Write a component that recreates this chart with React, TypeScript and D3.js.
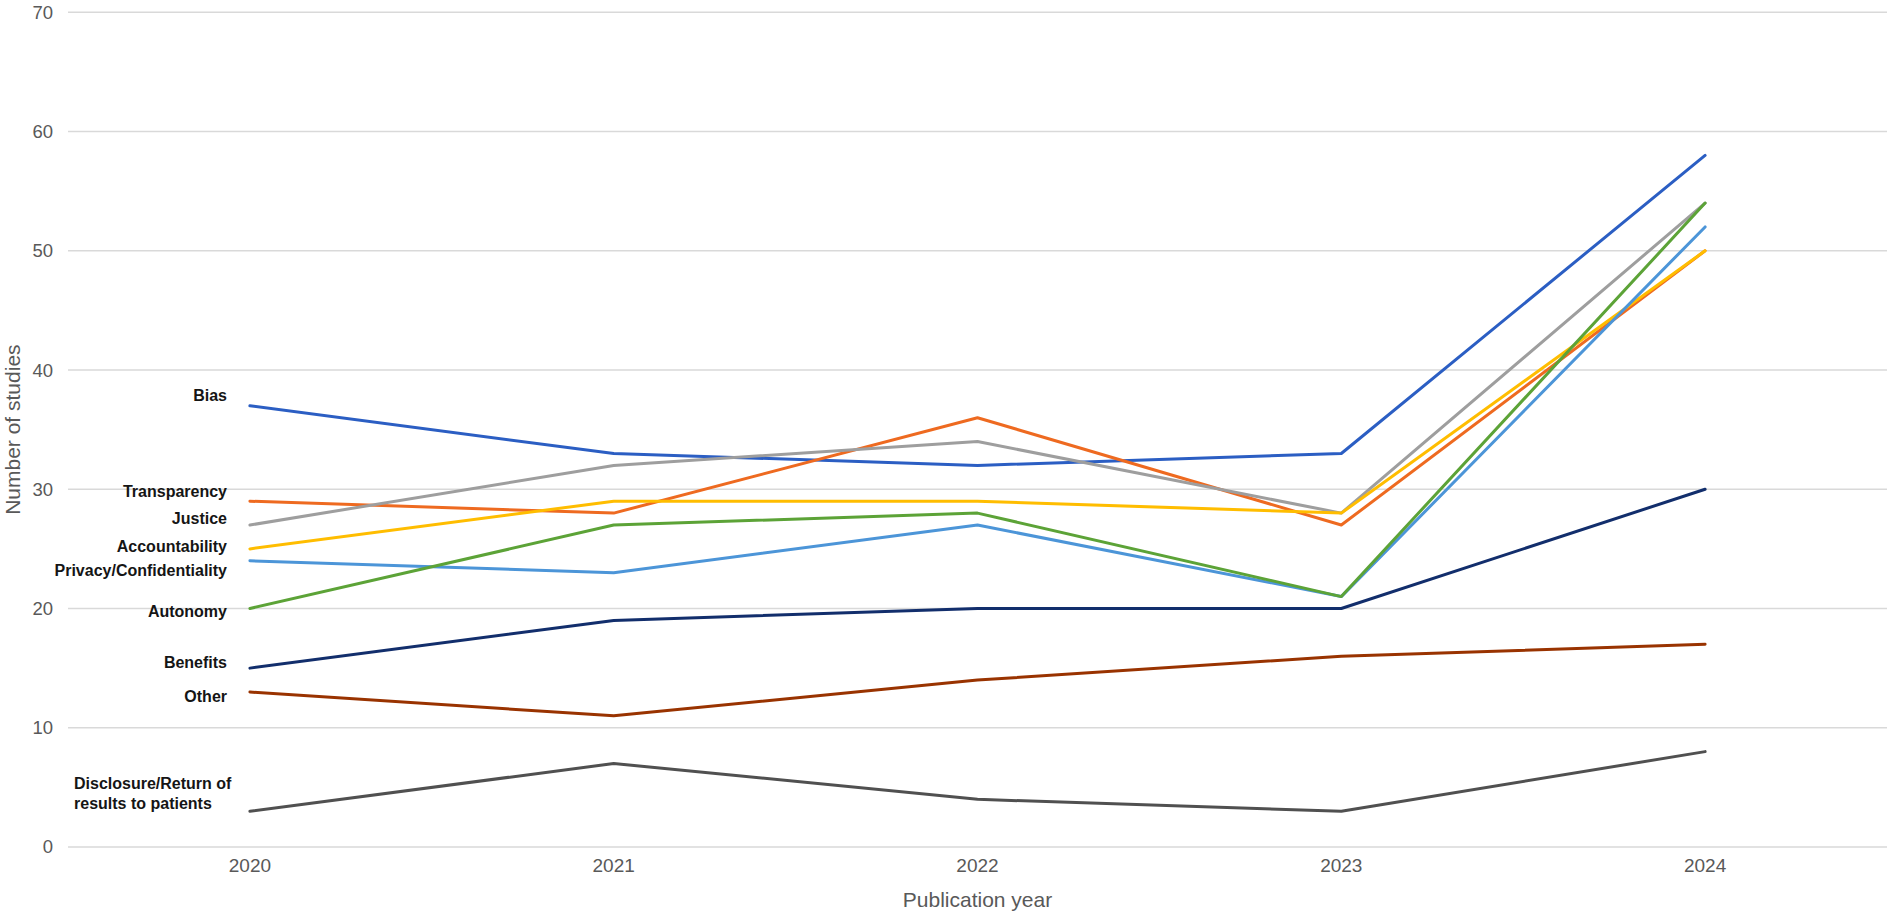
import React from "react";
import * as d3 from "d3";

const years = ["2020", "2021", "2022", "2023", "2024"];
const yTicks = [0, 10, 20, 30, 40, 50, 60, 70];

const bias = [37, 33, 32, 33, 58];
const transparency = [29, 28, 36, 27, 50];
const justice = [27, 32, 34, 28, 54];
const accountability = [25, 29, 29, 28, 50];
const privacy = [24, 23, 27, 21, 52];
const autonomy = [20, 27, 28, 21, 54];
const benefits = [15, 19, 20, 20, 30];
const other = [13, 11, 14, 16, 17];
const disclosure = [3, 7, 4, 3, 8];

const seriesNames = [
  "Bias",
  "Transparency",
  "Justice",
  "Accountability",
  "Privacy/Confidentiality",
  "Autonomy",
  "Benefits",
  "Other",
  "Disclosure/Return of results to patients",
];
const seriesValues = [bias, transparency, justice, accountability, privacy, autonomy, benefits, other, disclosure];

// styling
const colors = ["#2B5EC3", "#EE6A20", "#9E9E9E", "#FFBD00", "#4C95D8", "#5CA337", "#122E6C", "#993300", "#505050"];
// label vertical offsets (px) from the 2020 point
const labelDy = [-10, -10, -7, -2, 10, 3, -6, 4, 0];

const W = 1893;
const H = 912;
const left = 68;
const right = 1887;
const top = 12.3;
const bottom = 847;

export default function App() {
  const x = d3.scaleBand<string>().domain(years).range([left, right]);
  const xc = (i: number) => (x(years[i]) as number) + x.bandwidth() / 2;
  const y = d3.scaleLinear().domain([0, 70]).range([bottom, top]);
  const line = d3
    .line<number>()
    .x((_, i) => xc(i))
    .y((v) => y(v));

  const tickFont = "'Liberation Sans', Arial, sans-serif";

  return (
    <svg
      width={W}
      height={H}
      style={{ position: "absolute", left: 0, top: 0, background: "#fff" }}
      fontFamily={tickFont}
    >
      <rect x={0} y={0} width={W} height={H} fill="#fff" />
      {yTicks.map((t) => (
        <g key={t}>
          <line x1={left} x2={right} y1={y(t)} y2={y(t)} stroke="#D9D9D9" strokeWidth={1.5} />
          <text x={53} y={y(t)} dy="0.35em" textAnchor="end" fontSize={18.5} fill="#595959">
            {t}
          </text>
        </g>
      ))}
      {years.map((yr, i) => (
        <text key={yr} x={xc(i)} y={865} dy="0.35em" textAnchor="middle" fontSize={19} fill="#595959">
          {yr}
        </text>
      ))}
      <text x={xc(2)} y={900} dy="0.35em" textAnchor="middle" fontSize={21} fill="#595959">
        Publication year
      </text>
      <text
        transform={`translate(13,${(top + bottom) / 2}) rotate(-90)`}
        dy="0.35em"
        textAnchor="middle"
        fontSize={21}
        fill="#595959"
      >
        Number of studies
      </text>
      {seriesValues.map((vals, s) => (
        <path
          key={seriesNames[s]}
          d={line(vals) || ""}
          fill="none"
          stroke={colors[s]}
          strokeWidth={3}
          strokeLinejoin="round"
          strokeLinecap="round"
        />
      ))}
      {seriesNames.map((name, s) => {
        const py = y(seriesValues[s][0]);
        if (s === seriesNames.length - 1) {
          return (
            <text key={name} x={74} y={py} fontSize={16} fontWeight="bold" fill="#151515">
              <tspan x={74} y={py - 28} dy="0.35em">Disclosure/Return of</tspan>
              <tspan x={74} y={py - 8} dy="0.35em">results to patients</tspan>
            </text>
          );
        }
        return (
          <text
            key={name}
            x={227}
            y={py + labelDy[s]}
            dy="0.35em"
            textAnchor="end"
            fontSize={16}
            fontWeight="bold"
            fill="#151515"
          >
            {name}
          </text>
        );
      })}
    </svg>
  );
}
